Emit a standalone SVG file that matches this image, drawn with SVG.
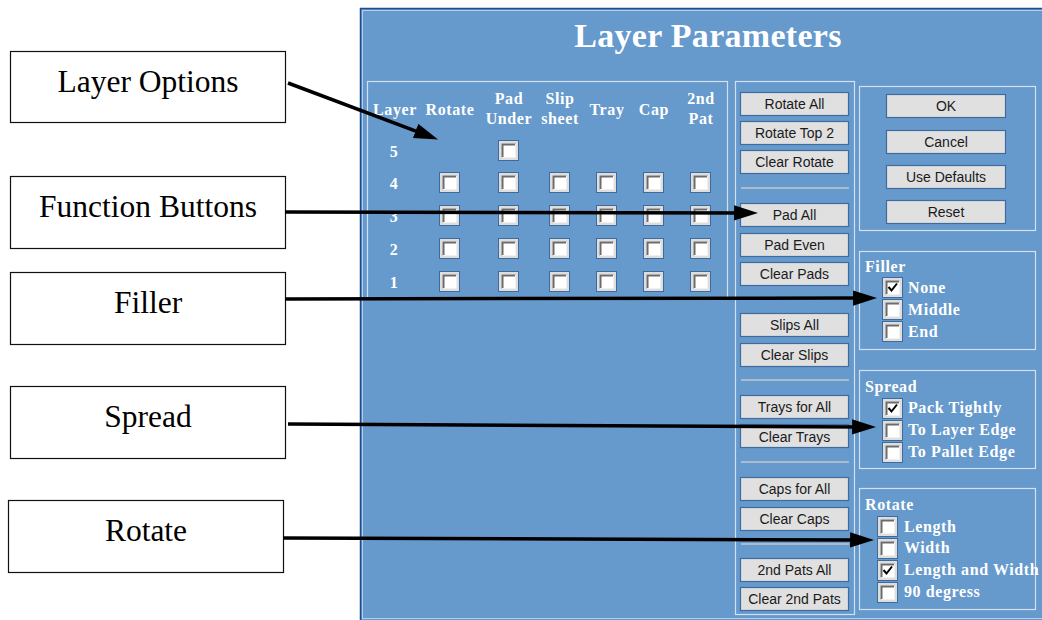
<svg xmlns="http://www.w3.org/2000/svg" xmlns:xlink="http://www.w3.org/1999/xlink" width="1042" height="620" viewBox="0 0 1042 620">
  <style>
    .callout rect { fill: #ffffff; stroke: #111111; stroke-width: 1.2; }
    .callout text { font-family: "Liberation Serif", "Times New Roman", serif; font-size: 31.5px; fill: #000000; text-anchor: middle; }
    .dlg { font-family: "Liberation Serif", "Times New Roman", serif; font-weight: bold; fill: #ffffff; font-size: 16px; letter-spacing: 0.6px; }
    .hdr { text-anchor: middle; }
    .title { font-size: 34px; letter-spacing: 0.3px; text-anchor: middle; }
    .grp { fill: none; stroke: #d2e1f2; stroke-width: 1.2; }
    .btn rect { fill: #e0e0e0; stroke: #3f6c9d; stroke-width: 1.2; }
    .btn text { font-family: "Liberation Sans", Arial, sans-serif; font-size: 14px; fill: #1a1a1a; text-anchor: middle; }
    .sep { stroke: #c3c8d0; stroke-width: 1.5; }
    .conn line { stroke: #000000; stroke-width: 3.5; marker-end: url(#head); }
  </style>
  <defs>
    <marker id="head" markerUnits="userSpaceOnUse" markerWidth="24" markerHeight="16" viewBox="0 0 22 14" refX="10" refY="7" orient="auto">
      <path d="M0,0 L22,7 L0,14 z" fill="#000000"/>
    </marker>
    <symbol id="cb" viewBox="0 0 21 21" overflow="visible">
      <rect x="0.5" y="0.5" width="20" height="20" fill="#dedede" stroke="#3d6b9e"/>
      <rect x="3.5" y="3.5" width="14" height="14" fill="#ffffff"/>
      <path d="M4.5,17.5 V4.5 H17.5" fill="none" stroke="#6b6b6b" stroke-width="2"/>
      <path d="M17.5,4 V17.5 H4" fill="none" stroke="#f0f0f0" stroke-width="1"/>
    </symbol>
    <symbol id="cbx" viewBox="0 0 21 21" overflow="visible">
      <use href="#cb" width="21" height="21"/>
      <path d="M6.5,10 L9.5,13.5 L15,6.5" fill="none" stroke="#000000" stroke-width="2"/>
    </symbol>
  </defs>

  <rect width="1042" height="620" fill="#ffffff"/>

  <!-- Callout labels -->
  <g id="label-layer-options" class="callout">
    <rect x="10.5" y="51.5" width="275" height="71"/>
    <text x="148" y="92">Layer Options</text>
  </g>
  <g id="label-function-buttons" class="callout">
    <rect x="10.5" y="176.5" width="275" height="72"/>
    <text x="148" y="217">Function Buttons</text>
  </g>
  <g id="label-filler" class="callout">
    <rect x="10.5" y="272.5" width="275" height="72"/>
    <text x="148" y="313">Filler</text>
  </g>
  <g id="label-spread" class="callout">
    <rect x="10.5" y="386.5" width="275" height="72"/>
    <text x="148" y="427">Spread</text>
  </g>
  <g id="label-rotate" class="callout">
    <rect x="8.5" y="500.5" width="275" height="72"/>
    <text x="146" y="541">Rotate</text>
  </g>

  <!-- Dialog window -->
  <g id="layer-parameters-dialog">
    <rect x="360.5" y="8.5" width="690" height="620" fill="#6699cc" stroke="#1e4b8c" stroke-width="1.5"/>
    <rect x="362.5" y="10.5" width="690" height="608" fill="none" stroke="#b5cde9" stroke-width="1"/>
    <text class="dlg title" x="708" y="47">Layer Parameters</text>

    <!-- layer grid -->
    <g id="layer-grid">
      <rect class="grp" x="367.5" y="81.5" width="360" height="218"/>
      <text class="dlg hdr" x="395" y="115">Layer</text>
      <text class="dlg hdr" x="450" y="115">Rotate</text>
      <text class="dlg hdr" x="509" y="104">Pad</text>
      <text class="dlg hdr" x="509" y="124">Under</text>
      <text class="dlg hdr" x="560" y="104">Slip</text>
      <text class="dlg hdr" x="560" y="124">sheet</text>
      <text class="dlg hdr" x="607" y="115">Tray</text>
      <text class="dlg hdr" x="654" y="115">Cap</text>
      <text class="dlg hdr" x="701" y="104">2nd</text>
      <text class="dlg hdr" x="701" y="124">Pat</text>

      <text class="dlg hdr" x="394" y="157">5</text>
      <text class="dlg hdr" x="394" y="189">4</text>
      <text class="dlg hdr" x="394" y="222">3</text>
      <text class="dlg hdr" x="394" y="255">2</text>
      <text class="dlg hdr" x="394" y="288">1</text>

      <use href="#cb" x="498" y="140" width="21" height="21"/>

      <use href="#cb" x="439" y="172" width="21" height="21"/>
      <use href="#cb" x="498" y="172" width="21" height="21"/>
      <use href="#cb" x="549" y="172" width="21" height="21"/>
      <use href="#cb" x="596" y="172" width="21" height="21"/>
      <use href="#cb" x="643" y="172" width="21" height="21"/>
      <use href="#cb" x="690" y="172" width="21" height="21"/>

      <use href="#cb" x="439" y="205" width="21" height="21"/>
      <use href="#cb" x="498" y="205" width="21" height="21"/>
      <use href="#cb" x="549" y="205" width="21" height="21"/>
      <use href="#cb" x="596" y="205" width="21" height="21"/>
      <use href="#cb" x="643" y="205" width="21" height="21"/>
      <use href="#cb" x="690" y="205" width="21" height="21"/>

      <use href="#cb" x="439" y="238" width="21" height="21"/>
      <use href="#cb" x="498" y="238" width="21" height="21"/>
      <use href="#cb" x="549" y="238" width="21" height="21"/>
      <use href="#cb" x="596" y="238" width="21" height="21"/>
      <use href="#cb" x="643" y="238" width="21" height="21"/>
      <use href="#cb" x="690" y="238" width="21" height="21"/>

      <use href="#cb" x="439" y="271" width="21" height="21"/>
      <use href="#cb" x="498" y="271" width="21" height="21"/>
      <use href="#cb" x="549" y="271" width="21" height="21"/>
      <use href="#cb" x="596" y="271" width="21" height="21"/>
      <use href="#cb" x="643" y="271" width="21" height="21"/>
      <use href="#cb" x="690" y="271" width="21" height="21"/>
    </g>

    <!-- function buttons column -->
    <g id="function-buttons">
      <rect class="grp" x="735.5" y="81.5" width="119" height="533"/>
      <g class="btn"><rect x="740.5" y="92.5" width="108" height="23"/><text x="794.5" y="109">Rotate All</text></g>
      <g class="btn"><rect x="740.5" y="121.5" width="108" height="23"/><text x="794.5" y="138">Rotate Top 2</text></g>
      <g class="btn"><rect x="740.5" y="150.5" width="108" height="23"/><text x="794.5" y="167">Clear Rotate</text></g>
      <line class="sep" x1="741" y1="188" x2="849" y2="188"/>
      <g class="btn"><rect x="740.5" y="203.5" width="108" height="23"/><text x="794.5" y="220">Pad All</text></g>
      <g class="btn"><rect x="740.5" y="233.5" width="108" height="23"/><text x="794.5" y="250">Pad Even</text></g>
      <g class="btn"><rect x="740.5" y="262.5" width="108" height="23"/><text x="794.5" y="279">Clear Pads</text></g>
      <line class="sep" x1="741" y1="299" x2="849" y2="299"/>
      <g class="btn"><rect x="740.5" y="313.5" width="108" height="23"/><text x="794.5" y="330">Slips All</text></g>
      <g class="btn"><rect x="740.5" y="343.5" width="108" height="23"/><text x="794.5" y="360">Clear Slips</text></g>
      <line class="sep" x1="741" y1="380" x2="849" y2="380"/>
      <g class="btn"><rect x="740.5" y="395.5" width="108" height="23"/><text x="794.5" y="412">Trays for All</text></g>
      <g class="btn"><rect x="740.5" y="424.5" width="108" height="23"/><text x="794.5" y="442">Clear Trays</text></g>
      <line class="sep" x1="741" y1="462" x2="849" y2="462"/>
      <g class="btn"><rect x="740.5" y="477.5" width="108" height="23"/><text x="794.5" y="494">Caps for All</text></g>
      <g class="btn"><rect x="740.5" y="507.5" width="108" height="23"/><text x="794.5" y="524">Clear Caps</text></g>
      <line class="sep" x1="741" y1="544" x2="849" y2="544"/>
      <g class="btn"><rect x="740.5" y="558.5" width="108" height="23"/><text x="794.5" y="575">2nd Pats All</text></g>
      <g class="btn"><rect x="740.5" y="587.5" width="108" height="23"/><text x="794.5" y="604">Clear 2nd Pats</text></g>
    </g>

    <!-- dialog actions -->
    <g id="dialog-actions">
      <rect class="grp" x="859.5" y="86.5" width="176" height="144"/>
      <g class="btn"><rect x="886.5" y="94.5" width="119" height="23"/><text x="946" y="111">OK</text></g>
      <g class="btn"><rect x="886.5" y="130.5" width="119" height="23"/><text x="946" y="147">Cancel</text></g>
      <g class="btn"><rect x="886.5" y="165.5" width="119" height="23"/><text x="946" y="182">Use Defaults</text></g>
      <g class="btn"><rect x="886.5" y="200.5" width="119" height="23"/><text x="946" y="217">Reset</text></g>
    </g>

    <!-- filler options -->
    <g id="filler-options">
      <rect class="grp" x="859.5" y="251.5" width="176" height="98"/>
      <text class="dlg" x="865" y="272">Filler</text>
      <use href="#cbx" x="882" y="277" width="21" height="21"/>
      <use href="#cb" x="882" y="299" width="21" height="21"/>
      <use href="#cb" x="882" y="321" width="21" height="21"/>
      <text class="dlg" x="908" y="293">None</text>
      <text class="dlg" x="908" y="315">Middle</text>
      <text class="dlg" x="908" y="337">End</text>
    </g>

    <!-- spread options -->
    <g id="spread-options">
      <rect class="grp" x="859.5" y="370.5" width="176" height="98"/>
      <text class="dlg" x="865" y="392">Spread</text>
      <use href="#cbx" x="882" y="398" width="21" height="21"/>
      <use href="#cb" x="882" y="420" width="21" height="21"/>
      <use href="#cb" x="882" y="442" width="21" height="21"/>
      <text class="dlg" x="908" y="413">Pack Tightly</text>
      <text class="dlg" x="908" y="435">To Layer Edge</text>
      <text class="dlg" x="908" y="457">To Pallet Edge</text>
    </g>

    <!-- rotate options -->
    <g id="rotate-options">
      <rect class="grp" x="859.5" y="488.5" width="176" height="121"/>
      <text class="dlg" x="865" y="510">Rotate</text>
      <use href="#cb" x="877" y="516" width="21" height="21"/>
      <use href="#cb" x="877" y="538" width="21" height="21"/>
      <use href="#cbx" x="877" y="560" width="21" height="21"/>
      <use href="#cb" x="877" y="582" width="21" height="21"/>
      <text class="dlg" x="904" y="532">Length</text>
      <text class="dlg" x="904" y="553">Width</text>
      <text class="dlg" x="904" y="575">Length and Width</text>
      <text class="dlg" x="904" y="597">90 degress</text>
    </g>
  </g>

  <!-- Connectors -->
  <g id="connectors" class="conn">
    <line x1="288" y1="83" x2="425.8" y2="134.8"/>
    <line x1="285" y1="212" x2="745" y2="213"/>
    <line x1="285" y1="299" x2="864" y2="298"/>
    <line x1="288" y1="424" x2="863" y2="427"/>
    <line x1="283" y1="538" x2="861" y2="540"/>
  </g>
</svg>
